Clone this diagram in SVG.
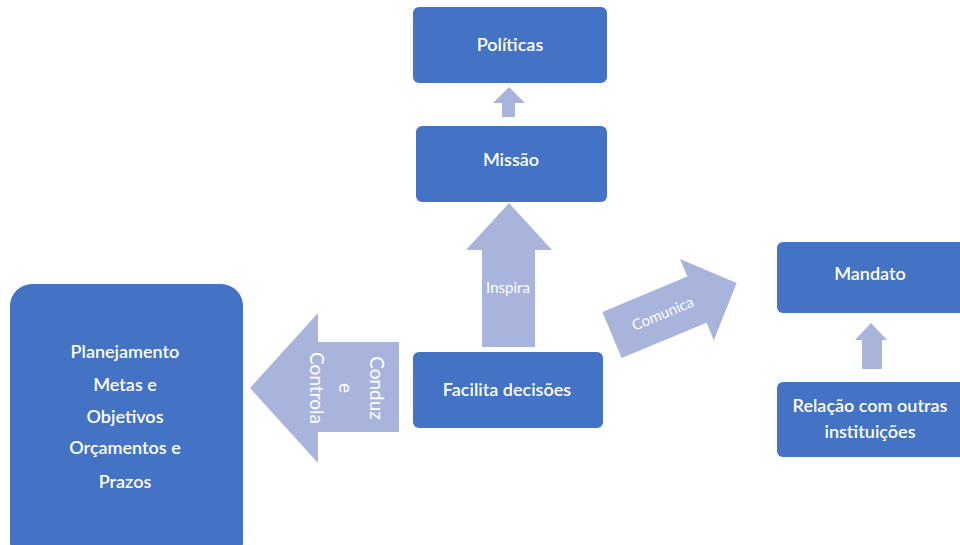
<svg xmlns="http://www.w3.org/2000/svg" width="960" height="545" viewBox="0 0 960 545">
<style>
.box{fill:#4472C4;}
.arr{fill:#A8B4DB;}
.t{font-family:Lato,"Liberation Sans",sans-serif;font-size:18px;fill:#fff;text-anchor:middle;font-weight:600;}
.al{font-family:Lato,"Liberation Sans",sans-serif;font-size:15px;fill:#fff;text-anchor:middle;}
</style>
<rect width="960" height="545" fill="#fff"/>
<g id="connectors">
<polygon class="arr" points="502,117 502,103 493,103 509,87 525,103 515,103 515,117"/>
<polygon class="arr" points="482,347 482,250 466,250 509,203 552,250 535,250 535,347"/>
<text class="al" x="508" y="293">Inspira</text>
<polygon class="arr" points="399,342 318,342 318,313 250,388 318,463 318,432 399,432"/>
<g transform="translate(345,388) rotate(90)" class="al" style="font-size:19px">
<text x="0" y="-25">Conduz</text>
<text x="0" y="6">e</text>
<text x="0" y="35">Controla</text>
</g>
<g transform="translate(612,335) rotate(-22.6)">
<polygon class="arr" points="0,-25 92,-25 92,-44 135,0 92,44 92,25 0,25"/>
<text class="al" x="55" y="5" style="font-size:15px">Comunica</text>
</g>
<polygon class="arr" points="862,369 862,340 855,340 871,323 887,340 882,340 882,369"/>
</g>
<g id="politicas"><rect class="box" x="413" y="7" width="194" height="76" rx="6"/><text class="t" x="510" y="51">Políticas</text></g>
<g id="missao"><rect class="box" x="416" y="126" width="191" height="76" rx="6"/><text class="t" x="511" y="166">Missão</text></g>
<g id="facilita"><rect class="box" x="413" y="352" width="190" height="76" rx="6"/><text class="t" x="507" y="396">Facilita decisões</text></g>
<g id="mandato"><rect class="box" x="777" y="242" width="190" height="71" rx="6"/><text class="t" x="870" y="280">Mandato</text></g>
<g id="relacao"><rect class="box" x="777" y="382" width="190" height="75" rx="6"/><text class="t" x="870" y="412">Relação com outras</text><text class="t" x="870" y="438">instituições</text></g>
<g id="planejamento"><rect class="box" x="10" y="284" width="233" height="280" rx="22"/>
<text class="t" x="125" y="358">Planejamento</text>
<text class="t" x="125" y="391">Metas e</text>
<text class="t" x="125" y="423">Objetivos</text>
<text class="t" x="125" y="454">Orçamentos e</text>
<text class="t" x="125" y="488">Prazos</text>
</g>
</svg>
